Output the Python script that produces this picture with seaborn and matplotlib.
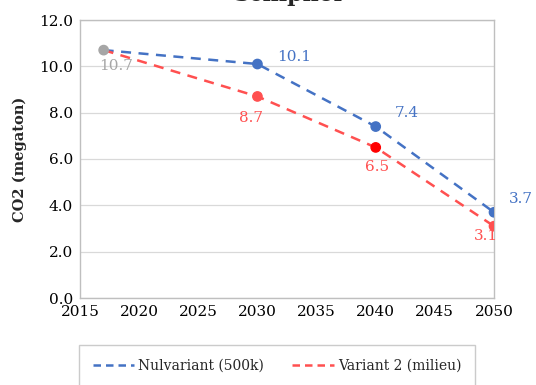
import numpy as np
import pandas as pd
import matplotlib.pyplot as plt
import seaborn as sns

# Data
years = [2017, 2030, 2040, 2050]
nulvariant = [10.7, 10.1, 7.4, 3.7]
variant2 = [10.7, 8.7, 6.5, 3.1]
series_names = ['Nulvariant (500k)', 'Variant 2 (milieu)']

blue = '#4472C4'
red = '#FF5050'
grey = '#A6A6A6'

df = pd.DataFrame({
    'jaar': years * 2,
    'co2': nulvariant + variant2,
    'variant': [series_names[0]] * 4 + [series_names[1]] * 4,
})

sns.set_style('white')
plt.rcParams['font.family'] = ['DejaVu Serif']

fig = plt.figure(figsize=(5.36, 3.85), dpi=100)
ax = fig.add_axes([80 / 536, 1 - 298 / 385, 414 / 536, 278 / 385])

sns.lineplot(data=df, x='jaar', y='co2', hue='variant',
             palette={series_names[0]: blue, series_names[1]: red},
             linewidth=1.8, ax=ax, legend=False, zorder=3)
for line in ax.get_lines():
    line.set_dashes((4, 3))

# markers
pt_red = [red, red, '#FF0000', red]
pt_blue = [grey, blue, blue, blue]
ax.scatter(years[1:], variant2[1:], color=pt_red[1:], s=45, zorder=4)
ax.scatter(years, nulvariant, color=pt_blue, s=45, zorder=5)

# data labels
lab_fs = 11
ax.annotate(f'{nulvariant[0]:.1f}', (years[0], nulvariant[0]), xytext=(-3.5, -14),
            textcoords='offset points', color=grey, fontsize=lab_fs)
offs_b = [(14, 2), (14, 7), (11, 7)]
for x, y, o in zip(years[1:], nulvariant[1:], offs_b):
    ax.annotate(f'{y:.1f}', (x, y), xytext=o, textcoords='offset points',
                color=blue, fontsize=lab_fs)
offs_r = [(-13, -18.5), (-7.5, -17), (-14.5, -10)]
for x, y, o in zip(years[1:], variant2[1:], offs_r):
    ax.annotate(f'{y:.1f}', (x, y), xytext=o, textcoords='offset points',
                color=red, fontsize=lab_fs)

ax.set_xlim(2015, 2050)
ax.set_ylim(0, 12)
ax.set_xticks(range(2015, 2051, 5))
ax.set_yticks(np.arange(0, 12.1, 2))
ax.set_yticklabels([f'{v:.1f}' for v in np.arange(0, 12.1, 2)])
ax.grid(axis='y', color='#D9D9D9', linewidth=0.9)
ax.grid(axis='x', visible=False)
for s in ax.spines.values():
    s.set_color('#BFBFBF')
    s.set_linewidth(1.0)
ax.tick_params(axis='both', direction='out', length=4, width=1, color='#BFBFBF',
               labelsize=11, labelcolor='black', pad=1)
ax.set_xlabel('')
ax.set_ylabel('CO2 (megaton)', fontsize=10.5, fontweight='bold', labelpad=9)

fig.text(0.537, 1.014, 'Schiphol', ha='center', va='center', fontsize=16,
         fontweight='bold')

handles = [plt.Line2D([], [], color=blue, linewidth=1.8, dashes=(3, 2)),
           plt.Line2D([], [], color=red, linewidth=1.8, dashes=(3, 2))]
leg = fig.legend(handles, series_names, loc='upper center',
                 bbox_to_anchor=(277 / 536, 1 - 345 / 385), ncol=2,
                 frameon=True, fancybox=False, fontsize=10, handlelength=3.0,
                 handletextpad=0.3, columnspacing=2.0, borderpad=1.0,
                 borderaxespad=0)
leg.get_frame().set_edgecolor('#BFBFBF')
leg.get_frame().set_linewidth(1.0)

fig.savefig('out.png', dpi=100)
